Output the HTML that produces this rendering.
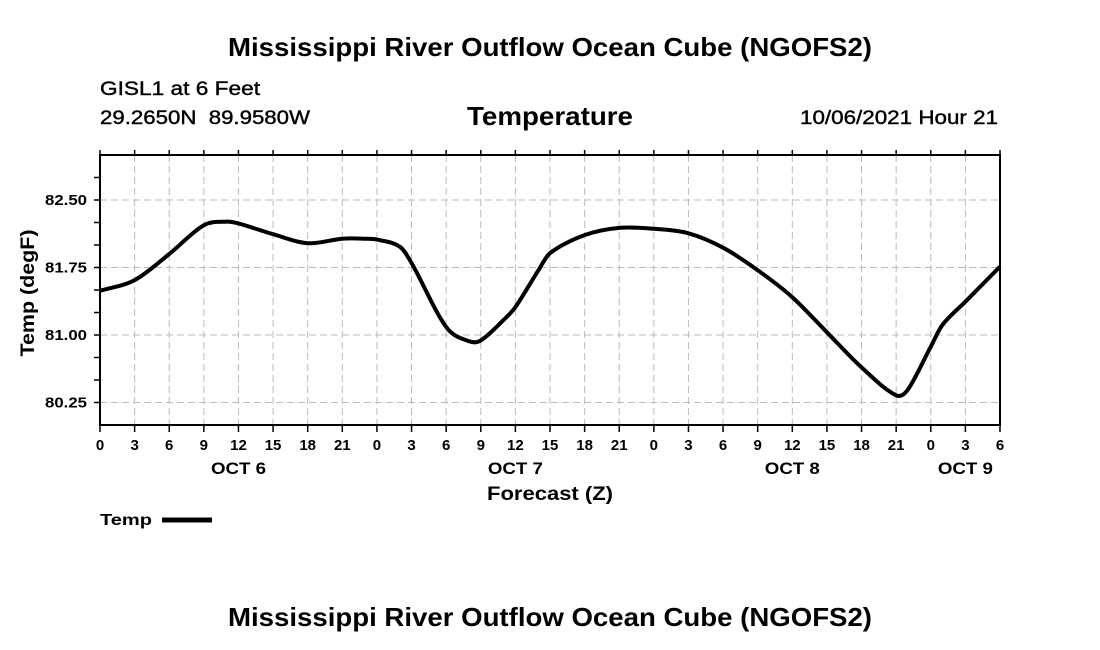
<!DOCTYPE html>
<html><head><meta charset="utf-8"><style>
html,body{margin:0;padding:0;background:#fff;}
svg{display:block;font-family:"Liberation Sans",Arial,sans-serif;}
</style></head><body>
<svg id="chart" width="1100" height="650" viewBox="0 0 1100 650">
<text x="550" y="56" text-anchor="middle" font-size="26" font-weight="bold" textLength="644" lengthAdjust="spacingAndGlyphs">Mississippi River Outflow Ocean Cube (NGOFS2)</text>
<text x="100" y="95" font-size="19" textLength="160" lengthAdjust="spacingAndGlyphs" stroke="#000" stroke-width="0.4">GISL1 at 6 Feet</text>
<text x="100" y="124" font-size="19" textLength="210" lengthAdjust="spacingAndGlyphs" stroke="#000" stroke-width="0.4" xml:space="preserve">29.2650N  89.9580W</text>
<text x="550" y="125" text-anchor="middle" font-size="26" font-weight="bold" textLength="166" lengthAdjust="spacingAndGlyphs">Temperature</text>
<text x="998" y="124" text-anchor="end" font-size="19" textLength="198" lengthAdjust="spacingAndGlyphs" stroke="#000" stroke-width="0.4">10/06/2021 Hour 21</text>
<g id="grid"></g>
<g id="axes"></g>
<path id="line" fill="none" stroke="#000" stroke-width="4" stroke-linejoin="round"/>
<rect x="100" y="155" width="900" height="270" fill="none" stroke="#000" stroke-width="2"/>
<text transform="translate(34,293) rotate(-90)" text-anchor="middle" font-size="19" font-weight="bold" textLength="127" lengthAdjust="spacingAndGlyphs">Temp (degF)</text>
<text x="550" y="500" text-anchor="middle" font-size="19" font-weight="bold" textLength="126" lengthAdjust="spacingAndGlyphs">Forecast (Z)</text>
<text x="100" y="525" font-size="16" font-weight="bold" textLength="52" lengthAdjust="spacingAndGlyphs">Temp</text>
<line x1="162" y1="520" x2="212" y2="520" stroke="#000" stroke-width="5"/>
<text x="550" y="626" text-anchor="middle" font-size="26" font-weight="bold" textLength="644" lengthAdjust="spacingAndGlyphs">Mississippi River Outflow Ocean Cube (NGOFS2)</text>
</svg>
<script>
const hours = [0,3,6,9,11,12,15,18,21,23,24,26,27,30,32,33,35,36,38,39,42,45,48,51,54,57,60,63,66,69,70,72,73,75,78];
const temps = [81.49,81.61,81.90,82.22,82.26,82.24,82.12,82.02,82.07,82.07,82.06,81.98,81.80,81.09,80.93,80.94,81.17,81.31,81.72,81.91,82.11,82.19,82.18,82.13,81.97,81.72,81.42,81.03,80.64,80.33,80.39,80.87,81.11,81.37,81.76];
const yTicks = [82.50,81.75,81.00,80.25];
const xTickLabels = ["0","3","6","9","12","15","18","21","0","3","6","9","12","15","18","21","0","3","6","9","12","15","18","21","0","3","6"];
const dayLabels = ["OCT 6","OCT 7","OCT 8","OCT 9"];
const dayHours = [12,36,60,75];

const X0=100,X1=1000,Y0=155,Y1=425,HMAX=78,TMIN=80,TMAX=83;
const xs=h=>X0+(h/HMAX)*(X1-X0);
const ys=t=>Y1-(t-TMIN)/(TMAX-TMIN)*(Y1-Y0);
const NS="http://www.w3.org/2000/svg";
const grid=document.getElementById('grid'), axes=document.getElementById('axes');
function mk(tag,attrs,parent){const e=document.createElementNS(NS,tag);for(const k in attrs)e.setAttribute(k,attrs[k]);parent.appendChild(e);return e;}
xTickLabels.forEach((lab,i)=>{
  const x=xs(i*3);
  const g=mk('line',{x1:x,y1:Y0,x2:x,y2:Y1,stroke:'#bbb','stroke-width':1,'stroke-dasharray':'7,4'},grid);
  
  
  const t1=mk('line',{x1:x,y1:Y1,x2:x,y2:Y1+7,stroke:'#000','stroke-width':1.5},axes);
  
  
  const t2=mk('line',{x1:x,y1:Y0,x2:x,y2:Y0-5,stroke:'#000','stroke-width':1.5},axes);
  
  
  const tx=mk('text',{x:x,y:450,'text-anchor':'middle','font-size':15,'font-weight':'bold'},axes);
  tx.textContent=lab;
  
  
});
dayLabels.forEach((lab,i)=>{
  const tx=mk('text',{x:xs(dayHours[i]),y:474,'text-anchor':'middle','font-size':17,'font-weight':'bold',textLength:55,lengthAdjust:'spacingAndGlyphs'},axes);
  tx.textContent=lab;
  
  
});
yTicks.forEach(v=>{
  const y=ys(v);
  const g=mk('line',{x1:X0,y1:y,x2:X1,y2:y,stroke:'#bbb','stroke-width':1,'stroke-dasharray':'7,4'},grid);
  
  
  const tx=mk('text',{x:87,y:y+5,'text-anchor':'end','font-size':15,'font-weight':'bold',textLength:42,lengthAdjust:'spacingAndGlyphs'},axes);
  tx.textContent=v.toFixed(2);
  
  
});
for(let v=80.25;v<83;v+=0.25){
  const y=ys(v);
  const t=mk('line',{x1:X0-6,y1:y,x2:X0,y2:y,stroke:'#000','stroke-width':1.5},axes);
  
  
}
const pts=hours.map((h,i)=>[xs(h),ys(temps[i])]);
const n=pts.length;
const m=pts.map((p,i)=>{
  const a=pts[Math.max(0,i-1)],b=pts[Math.min(n-1,i+1)];
  return (b[1]-a[1])/(b[0]-a[0]);
});
let d=`M${pts[0][0]},${pts[0][1]}`;
for(let i=0;i<n-1;i++){
  const p1=pts[i],p2=pts[i+1],dx=(p2[0]-p1[0])/3;
  d+=` C${p1[0]+dx},${p1[1]+m[i]*dx} ${p2[0]-dx},${p2[1]-m[i+1]*dx} ${p2[0]},${p2[1]}`;
}
document.getElementById('line').setAttribute('d',d);
</script>
</body></html>
